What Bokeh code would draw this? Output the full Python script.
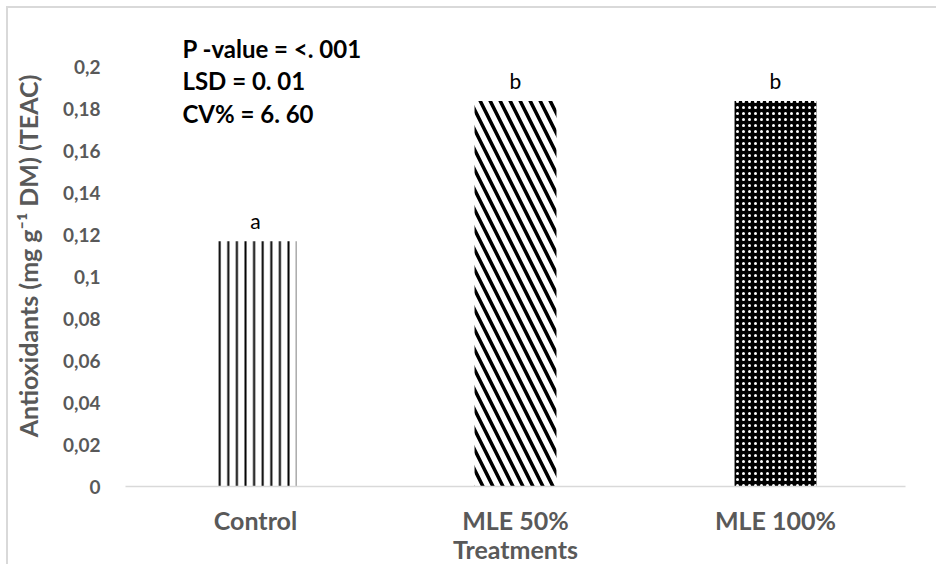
from bokeh.plotting import figure
from bokeh.models import Range1d, Label, LabelSet, ColumnDataSource, FixedTicker
from bokeh.core.properties import value
from bokeh.embed import file_html
from bokeh.resources import INLINE

# Data
treatments = ["Control", "MLE 50%", "MLE 100%"]
antioxidants = [0.117, 0.184, 0.184]
letters = ["a", "b", "b"]
y_ticks = [0, 0.02, 0.04, 0.06, 0.08, 0.1, 0.12, 0.14, 0.16, 0.18, 0.2]
y_tick_labels = ["0", "0,02", "0,04", "0,06", "0,08", "0,1", "0,12", "0,14", "0,16", "0,18", "0,2"]
stats_lines = ["P -value = <. 001", "LSD = 0. 01", "CV% = 6. 60"]

FONT = "Lato"
GREY = "#595959"

p = figure(
    x_range=treatments,
    y_range=Range1d(0, 0.22),
    width=930, height=558,
    output_backend="svg",
    toolbar_location=None,
    min_border_left=117, min_border_right=33,
    min_border_top=17, min_border_bottom=79,
)
p.styles = {
    "margin-left": "6px", "margin-top": "6px",
    "border-left": "2px solid #d9d9d9", "border-top": "2px solid #d9d9d9",
}
p.outline_line_color = None
p.xgrid.grid_line_color = None
p.ygrid.grid_line_color = None
p.x_range.range_padding = 0

# One bar per treatment, each with its own fill pattern
patterns = [
    dict(fill_color="white", hatch_pattern="vertical_line", hatch_color="black",
         hatch_scale=8.6, hatch_weight=2),
    dict(fill_color="white", hatch_pattern="left_diagonal_line", hatch_color="black",
         hatch_scale=20, hatch_weight=3.5),
    dict(fill_color="black", hatch_pattern="dot", hatch_color="white",
         hatch_scale=6, hatch_weight=2),
]
for name, val, style in zip(treatments, antioxidants, patterns):
    src = ColumnDataSource(dict(x=[name], top=[val]))
    p.vbar(x="x", top="top", width=0.315, source=src, line_color=None, **style)

# Significance letters above bars
lbl_src = ColumnDataSource(dict(x=treatments, y=antioxidants, t=letters))
p.add_layout(LabelSet(x="x", y="y", text="t", source=lbl_src, y_offset=12,
                      text_align="center", text_baseline="alphabetic",
                      text_font=value(FONT), text_font_size="21px", text_color="black"))

# Statistics block
for i, line in enumerate(stats_lines):
    p.add_layout(Label(x=0.219, y=0.2091 - i * 0.01548, text=line,
                       text_font=FONT, text_font_size="24px", text_font_style="bold",
                       text_color="black", text_align="left", text_baseline="alphabetic"))

# Axes
p.yaxis.ticker = FixedTicker(ticks=y_ticks)
p.yaxis.major_label_overrides = {t: l for t, l in zip(y_ticks, y_tick_labels)}
p.yaxis.axis_line_color = None
p.yaxis.major_tick_line_color = None
p.yaxis.minor_tick_line_color = None
p.yaxis.major_tick_out = 0
p.yaxis.major_tick_in = 0
p.yaxis.minor_tick_out = 0
p.yaxis.major_label_standoff = 25
p.yaxis.major_label_text_font = FONT
p.yaxis.major_label_text_font_style = "bold"
p.yaxis.major_label_text_font_size = "19px"
p.yaxis.major_label_text_color = GREY
p.yaxis.axis_label = "Antioxidants (mg g\u207b\u00b9 DM) (TEAC)"
p.yaxis.axis_label_text_font = FONT
p.yaxis.axis_label_text_font_style = "bold"
p.yaxis.axis_label_text_font_size = "25px"
p.yaxis.axis_label_text_color = GREY
p.yaxis.axis_label_standoff = 17

p.xaxis.axis_line_color = "#d9d9d9"
p.xaxis.axis_line_width = 1.5
p.xaxis.major_tick_line_color = None
p.xaxis.minor_tick_line_color = None
p.xaxis.major_tick_out = 0
p.xaxis.major_tick_in = 0
p.xaxis.minor_tick_out = 0
p.xaxis.major_label_standoff = 18
p.xaxis.major_label_text_font = FONT
p.xaxis.major_label_text_font_style = "bold"
p.xaxis.major_label_text_font_size = "25px"
p.xaxis.major_label_text_color = GREY
p.xaxis.axis_label = "Treatments"
p.xaxis.axis_label_text_font = FONT
p.xaxis.axis_label_text_font_style = "bold"
p.xaxis.axis_label_text_font_size = "25px"
p.xaxis.axis_label_text_color = GREY
p.xaxis.axis_label_standoff = -4

open("out.html", "w").write(file_html(p, INLINE))
